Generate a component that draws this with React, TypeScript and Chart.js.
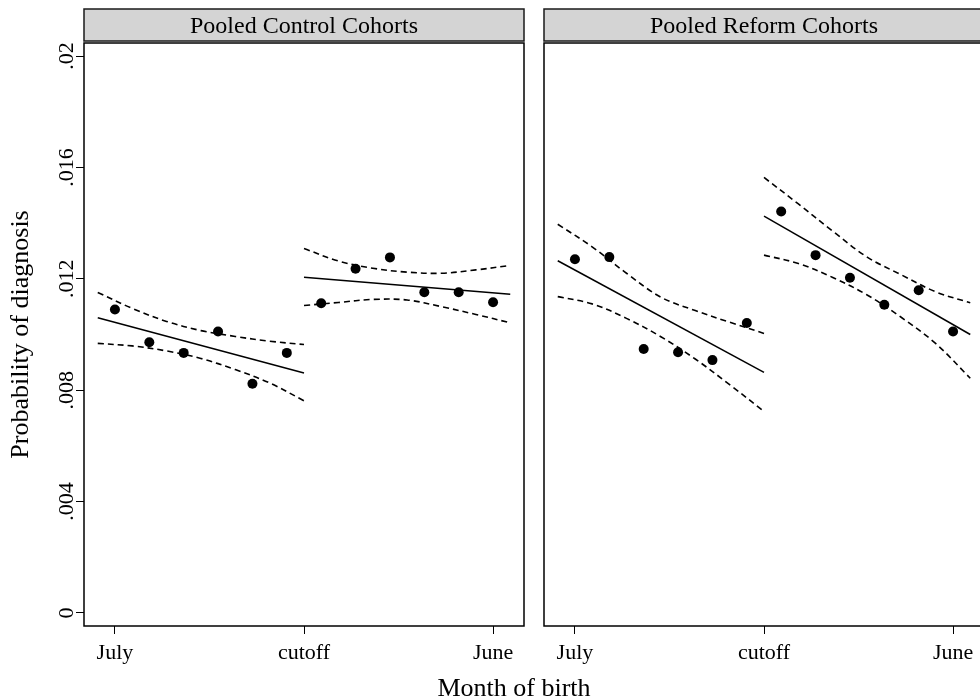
import React, { useEffect, useRef } from "react";
import { Chart, registerables } from "chart.js";

Chart.register(...registerables);

// ---------- data ----------
const months = [1, 2, 3, 4, 5, 6, 7, 8, 9, 10, 11, 12];
const ciMonthsBefore = [0.5, 1.5, 2.5, 3.5, 4.5, 5.5, 6.5];
const ciMonthsAfter = [6.5, 7.5, 8.5, 9.5, 10.5, 11.5, 12.5];
const fitMonthsBefore = [0.5, 6.5];
const fitMonthsAfter = [6.5, 12.5];

const xTickValues = [1, 6.5, 12];
const xTickLabels = ["July", "cutoff", "June"];
const yTickValues = [0, 0.004, 0.008, 0.012, 0.016, 0.02];
const yTickLabels = ["0", ".004", ".008", ".012", ".016", ".02"];

const panelTitles = ["Pooled Control Cohorts", "Pooled Reform Cohorts"];
const yAxisTitle = "Probability of diagnosis";
const xAxisTitle = "Month of birth";

// Pooled Control Cohorts
const controlPoints = [0.0109, 0.00972, 0.00934, 0.01011, 0.00823, 0.00934, 0.01112, 0.01236, 0.01277, 0.01152, 0.01152, 0.01116];
const controlFitBefore = [0.0106, 0.00862];
const controlFitAfter = [0.01206, 0.01145];
const controlUpperBefore = [0.01151, 0.01094, 0.01047, 0.01014, 0.00993, 0.00976, 0.00964];
const controlLowerBefore = [0.00968, 0.00959, 0.00941, 0.00914, 0.00874, 0.00826, 0.00762];
const controlUpperAfter = [0.01309, 0.01264, 0.01238, 0.01224, 0.0122, 0.01232, 0.01248];
const controlLowerAfter = [0.01104, 0.01115, 0.01126, 0.01124, 0.011, 0.01072, 0.01042];

// Pooled Reform Cohorts
const reformPoints = [0.0127, 0.01278, 0.00948, 0.00936, 0.00908, 0.01041, 0.01442, 0.01285, 0.01204, 0.01107, 0.01159, 0.01011];
const reformFitBefore = [0.01265, 0.00864];
const reformFitAfter = [0.01425, 0.01];
const reformUpperBefore = [0.01396, 0.01315, 0.0122, 0.01134, 0.01086, 0.01044, 0.01004];
const reformLowerBefore = [0.01136, 0.0111, 0.01058, 0.00992, 0.00912, 0.0082, 0.00724];
const reformUpperAfter = [0.01564, 0.01469, 0.01371, 0.01278, 0.01214, 0.01153, 0.01114];
const reformLowerAfter = [0.01285, 0.01255, 0.01205, 0.01142, 0.01061, 0.00967, 0.00843];

// ---------- styling ----------
const FONT = "'Liberation Serif', 'Times New Roman', Times, serif";
Chart.defaults.font.family = FONT;
Chart.defaults.color = "#000";

const X_MIN = 0.1;
const X_MAX = 12.9;
const Y_MIN = -0.00047;
const Y_MAX = 0.02047;

function xy(xs: number[], ys: number[]) {
  return xs.map((x, i) => ({ x, y: ys[i] }));
}

function makeDatasets(
  points: number[],
  fitB: number[],
  fitA: number[],
  upB: number[],
  loB: number[],
  upA: number[],
  loA: number[]
) {
  const solid: any = {
    borderColor: "#000",
    borderWidth: 1.5,
    pointRadius: 0,
    pointHoverRadius: 0,
    fill: false,
    showLine: true,
  };
  const dashed: any = { ...solid, borderWidth: 1.6, borderDash: [6, 4], tension: 0.35 };
  return [
    {
      label: "points",
      data: xy(months, points),
      showLine: false,
      pointRadius: 5,
      pointHoverRadius: 5,
      pointBackgroundColor: "#000",
      pointBorderColor: "#000",
      pointBorderWidth: 0,
    },
    { ...solid, label: "fitB", data: xy(fitMonthsBefore, fitB) },
    { ...solid, label: "fitA", data: xy(fitMonthsAfter, fitA) },
    { ...dashed, label: "upB", data: xy(ciMonthsBefore, upB) },
    { ...dashed, label: "loB", data: xy(ciMonthsBefore, loB) },
    { ...dashed, label: "upA", data: xy(ciMonthsAfter, upA) },
    { ...dashed, label: "loA", data: xy(ciMonthsAfter, loA) },
  ];
}

const panelPlugin = {
  id: "panelHeader",
  afterDraw(chart: any, _args: any, opts: any) {
    const { ctx, chartArea } = chart;
    const { left, right, top, bottom } = chartArea;
    const hTop = 9;
    const hBottom = 41;
    ctx.save();
    ctx.fillStyle = "#d4d4d4";
    ctx.fillRect(left, hTop, right - left, hBottom - hTop);
    ctx.strokeStyle = "#1a1a1a";
    ctx.lineWidth = 1.5;
    ctx.strokeRect(left, hTop, right - left, hBottom - hTop);
    ctx.fillStyle = "#000";
    ctx.font = `24px ${FONT}`;
    ctx.textAlign = "center";
    ctx.textBaseline = "alphabetic";
    ctx.fillText(opts.text, (left + right) / 2, 33);
    ctx.strokeStyle = "#000";
    ctx.lineWidth = 1.5;
    ctx.strokeRect(left, top, right - left, bottom - top);
    ctx.restore();
  },
};

function makeConfig(datasets: any[], title: string, showY: boolean, padLeft: number, padRight: number): any {
  return {
    type: "line",
    data: { datasets },
    plugins: [panelPlugin],
    options: {
      responsive: false,
      animation: false,
      events: [],
      layout: { padding: { top: 43, left: padLeft, right: padRight, bottom: 0 } },
      plugins: {
        legend: { display: false },
        tooltip: { enabled: false },
        panelHeader: { text: title },
      },
      scales: {
        x: {
          type: "linear",
          min: X_MIN,
          max: X_MAX,
          afterBuildTicks: (s: any) => {
            s.ticks = xTickValues.map((v) => ({ value: v }));
          },
          afterFit: (s: any) => {
            s.height = 74;
          },
          ticks: {
            autoSkip: false,
            maxRotation: 0,
            minRotation: 0,
            padding: 6,
            font: { size: 22 },
            color: "#000",
            callback: (_v: any, i: number) => xTickLabels[i],
          },
          grid: {
            display: true,
            drawOnChartArea: false,
            drawTicks: true,
            tickLength: 8,
            tickColor: "#000",
            tickWidth: 1,
          },
          border: { display: false },
        },
        y: {
          type: "linear",
          display: showY,
          min: Y_MIN,
          max: Y_MAX,
          afterBuildTicks: (s: any) => {
            s.ticks = yTickValues.map((v) => ({ value: v }));
          },
          afterFit: (s: any) => {
            s.width = showY ? 84 : 0;
          },
          ticks: {
            autoSkip: false,
            minRotation: 90,
            maxRotation: 90,
            crossAlign: "center",
            padding: -10,
            font: { size: 22 },
            color: "#000",
            callback: (_v: any, i: number) => yTickLabels[i],
          },
          grid: {
            display: true,
            drawOnChartArea: false,
            drawTicks: true,
            tickLength: 8,
            tickColor: "#000",
            tickWidth: 1,
          },
          border: { display: false },
          title: {
            display: true,
            text: yAxisTitle,
            font: { size: 26, lineHeight: 1.2 },
            color: "#000",
            padding: { top: 6, bottom: 0 },
          },
        },
      },
    },
  };
}

function Panel(props: { config: any; left: number; width: number }) {
  const ref = useRef<HTMLCanvasElement | null>(null);
  useEffect(() => {
    if (!ref.current) return;
    const chart = new Chart(ref.current, props.config);
    return () => chart.destroy();
  }, []);
  return (
    <canvas
      ref={ref}
      width={props.width}
      height={700}
      style={{ position: "absolute", left: props.left, top: 0, width: props.width, height: 700 }}
    />
  );
}

export default function App() {
  const leftConfig = makeConfig(
    makeDatasets(controlPoints, controlFitBefore, controlFitAfter, controlUpperBefore, controlLowerBefore, controlUpperAfter, controlLowerAfter),
    panelTitles[0],
    true,
    0,
    10
  );
  const rightConfig = makeConfig(
    makeDatasets(reformPoints, reformFitBefore, reformFitAfter, reformUpperBefore, reformLowerBefore, reformUpperAfter, reformLowerAfter),
    panelTitles[1],
    false,
    14,
    6
  );
  return (
    <div
      style={{
        position: "absolute",
        left: 0,
        top: 0,
        width: 980,
        height: 700,
        overflow: "hidden",
        background: "#fff",
      }}
    >
      <Panel config={leftConfig} left={0} width={534} />
      <Panel config={rightConfig} left={530} width={460} />
      <div
        style={{
          position: "absolute",
          left: 514,
          top: 675,
          transform: "translateX(-50%)",
          fontFamily: FONT,
          fontSize: 26,
          lineHeight: "26px",
          whiteSpace: "nowrap",
          color: "#000",
        }}
      >
        {xAxisTitle}
      </div>
    </div>
  );
}
